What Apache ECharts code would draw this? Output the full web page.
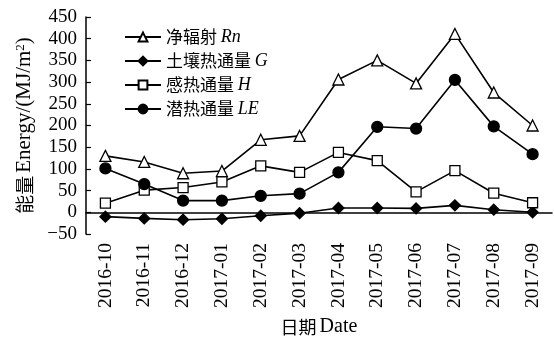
<!DOCTYPE html>
<html>
<head>
<meta charset="utf-8">
<script src="https://cdn.jsdelivr.net/npm/echarts@6/dist/echarts.min.js"></script>
<style>
  html, body { margin: 0; padding: 0; background: #fff; }
  #chart { width: 554px; height: 337px; }
</style>
</head>
<body>
<div id="chart"></div>
<script>
// Monthly energy balance components (MJ/m2)
var months = ['2016-10', '2016-11', '2016-12', '2017-01', '2017-02', '2017-03',
              '2017-04', '2017-05', '2017-06', '2017-07', '2017-08', '2017-09'];
var netRadiation = [130, 116, 90, 95, 167, 176, 306, 350, 297, 411, 276, 200];
var soilHeatFlux = [-10, -14, -17, -15, -8, -2, 10, 10, 9, 16, 6, 0];
var sensibleHeat = [21, 51, 57, 70, 107, 92, 138, 119, 47, 96, 44, 22];
var latentHeat = [101, 65, 27, 27, 38, 43, 92, 197, 193, 305, 198, 134];

var seriesNames = ['净辐射', '土壤热通量', '感热通量', '潜热通量'];
var seriesSymbols = ['Rn', 'G', 'H', 'LE'];

var serif = '"Liberation Serif", "Times New Roman", "Noto Sans CJK SC", serif';
var cjk = '"Noto Sans CJK SC", serif';

var chart = echarts.init(document.getElementById('chart'));

function lineSeries(idx, data, symbol, size, fill) {
  return {
    name: seriesNames[idx],
    type: 'line',
    data: data,
    symbol: symbol,
    symbolSize: size,
    showAllSymbol: true,
    lineStyle: { color: '#000', width: 1.6 },
    itemStyle: { color: fill, borderColor: '#000', borderWidth: 1.3 },
    emphasis: { disabled: true },
    z: 3
  };
}

chart.setOption({
  animation: false,
  textStyle: { fontFamily: serif, color: '#000' },
  grid: { left: 86, right: 2, top: 17, bottom: 103, containLabel: false, outerBoundsMode: 'none' },
  legend: {
    left: 119,
    top: 23,
    orient: 'vertical',
    itemGap: 6,
    itemWidth: 36,
    itemHeight: 11,
    selectedMode: false,
    formatter: function (name) {
      var i = seriesNames.indexOf(name);
      return '{c|' + name + ' }{i|' + seriesSymbols[i] + '}';
    },
    textStyle: {
      color: '#000',
      rich: {
        c: { fontFamily: cjk, fontSize: 17, color: '#000' },
        i: { fontFamily: serif, fontStyle: 'italic', fontSize: 18, color: '#000' }
      }
    }
  },
  xAxis: {
    type: 'category',
    data: months,
    boundaryGap: true,
    name: '{c|日期} {t|Date}',
    nameLocation: 'middle',
    nameGap: 83,
    nameTextStyle: {
      rich: {
        c: { fontFamily: cjk, fontSize: 18, color: '#000' },
        t: { fontFamily: serif, fontSize: 20, color: '#000' }
      }
    },
    axisLine: { lineStyle: { color: '#000', width: 1.5 } },
    axisTick: { inside: true, length: 5, lineStyle: { color: '#000', width: 1.2 } },
    axisLabel: { rotate: 90, margin: 9, fontSize: 19.5, color: '#000', fontFamily: serif },
    splitLine: { show: false }
  },
  yAxis: {
    type: 'value',
    min: -50,
    max: 450,
    interval: 50,
    name: '{c|能量} {t|Energy/(MJ/m}{s|2}{t|)}',
    nameLocation: 'middle',
    nameRotate: 90,
    nameGap: 51,
    nameTextStyle: {
      rich: {
        c: { fontFamily: cjk, fontSize: 19, color: '#000' },
        t: { fontFamily: serif, fontSize: 21, color: '#000' },
        s: { fontFamily: serif, fontSize: 13, color: '#000', verticalAlign: 'top', padding: [0, 0, 8, 0] }
      }
    },
    axisLine: { show: true, lineStyle: { color: '#000', width: 1.5 } },
    axisTick: { show: true, inside: true, length: 5, lineStyle: { color: '#000', width: 1.2 } },
    axisLabel: {
      margin: 9, fontSize: 19, color: '#000', fontFamily: serif,
      formatter: function (v) { return String(v).replace('-', '\u2212'); }
    },
    splitLine: { show: false }
  },
  series: [
    lineSeries(0, netRadiation, 'triangle', 11, '#fff'),
    lineSeries(1, soilHeatFlux, 'diamond', 11, '#000'),
    lineSeries(2, sensibleHeat, 'rect', 10, '#fff'),
    lineSeries(3, latentHeat, 'circle', 11, '#000')
  ]
});
</script>
</body>
</html>
